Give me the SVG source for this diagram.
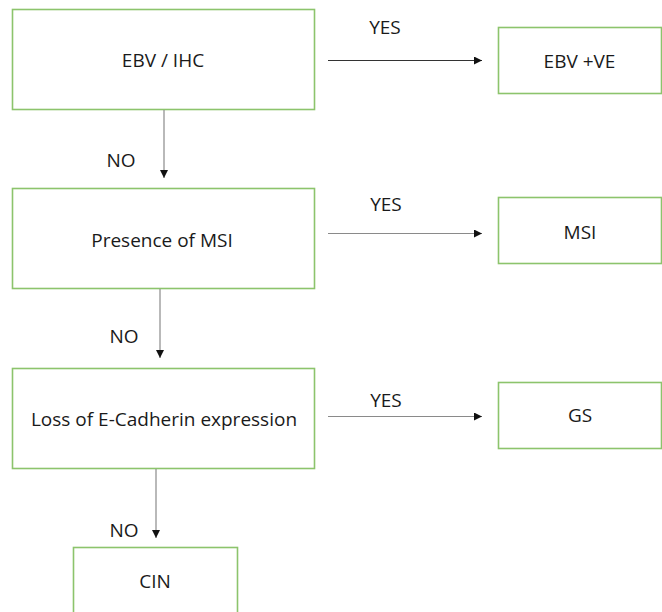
<svg xmlns="http://www.w3.org/2000/svg" width="662" height="612" viewBox="0 0 662 612">
<defs>
<marker id="ah" viewBox="0 0 10 10" refX="10" refY="5" markerWidth="8" markerHeight="8" markerUnits="userSpaceOnUse" orient="auto">
<path d="M0,0 L10,5 L0,10 z" fill="#111"/>
</marker>
<style>
.box{fill:#fff;stroke:#8cc46c;stroke-width:1.6}
.t{font-family:"Open Sans","Liberation Sans",sans-serif;font-size:19px;fill:#1a1a1a;text-anchor:middle;dominant-baseline:central}
.c{stroke:#8a8a8a;stroke-width:1.2;fill:none;marker-end:url(#ah)}
</style>
</defs>
<rect width="662" height="612" fill="#fff"/>
<g id="n1"><rect class="box" x="12.5" y="9.5" width="302" height="100"/><text class="t" x="163" y="60">EBV / IHC</text></g>
<g id="n2"><rect class="box" x="12.5" y="188.5" width="302" height="100"/><text class="t" x="162" y="239.5">Presence of MSI</text></g>
<g id="n3"><rect class="box" x="12.5" y="368.5" width="302" height="100"/><text class="t" x="164" y="419">Loss of E-Cadherin expression</text></g>
<g id="n4"><rect class="box" x="73.5" y="547.5" width="164" height="80"/><text class="t" x="155" y="581">CIN</text></g>
<g id="n5"><rect class="box" x="498.5" y="27.5" width="163" height="66"/><text class="t" x="579.5" y="61">EBV +VE</text></g>
<g id="n6"><rect class="box" x="498.5" y="197.5" width="163" height="66"/><text class="t" x="580" y="232">MSI</text></g>
<g id="n7"><rect class="box" x="498.5" y="382.5" width="163" height="66"/><text class="t" x="580" y="415">GS</text></g>
<g id="connectors">
<line class="c" x1="164" y1="110" x2="164" y2="178"/>
<line class="c" x1="160" y1="289" x2="160" y2="358"/>
<line class="c" x1="156" y1="469" x2="156" y2="538"/>
<line class="c" x1="328" y1="60.5" x2="482" y2="60.5" style="stroke:#333"/>
<line class="c" x1="328" y1="233.5" x2="482" y2="233.5"/>
<line class="c" x1="328" y1="416.5" x2="482" y2="416.5"/>
<text class="t" x="121" y="160">NO</text>
<text class="t" x="124" y="336">NO</text>
<text class="t" x="124" y="530">NO</text>
<text class="t" x="385" y="27">YES</text>
<text class="t" x="386" y="204">YES</text>
<text class="t" x="386" y="400">YES</text>
</g>
</svg>
